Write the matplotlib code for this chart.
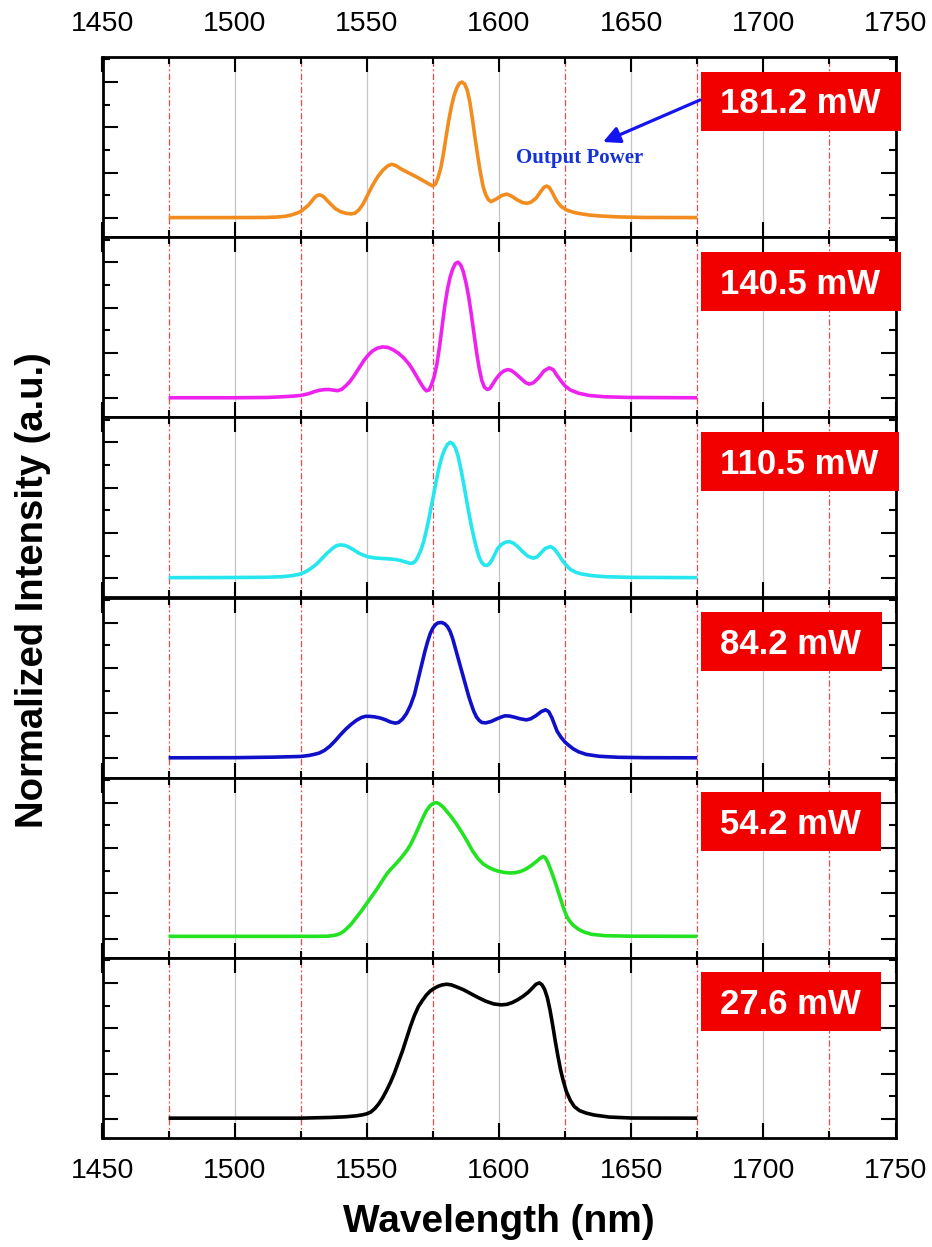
import matplotlib
matplotlib.use("Agg")
import matplotlib.pyplot as plt
from matplotlib.ticker import MultipleLocator
from matplotlib.transforms import blended_transform_factory, IdentityTransform
from matplotlib.patches import Rectangle

# ---------------- data ----------------
powers = ["181.2 mW", "140.5 mW", "110.5 mW", "84.2 mW", "54.2 mW", "27.6 mW"]
colors = ["#F28C1E", "#EE22EE", "#26E6EE", "#1010C8", "#22E222", "#000000"]

wl_181 = [1475, 1500, 1512, 1516, 1519, 1521, 1523, 1525, 1527, 1528, 1529, 1530, 1531, 1532, 1533,
          1534, 1536, 1538, 1540, 1542, 1544, 1545.5, 1547, 1548.5, 1550, 1552, 1554, 1556, 1558,
          1559.5, 1561, 1563, 1566, 1569, 1572, 1574, 1575, 1576, 1577, 1578, 1579, 1580, 1581, 1582,
          1583, 1584, 1585, 1586, 1587, 1588, 1589, 1590, 1591, 1592, 1593, 1594, 1595, 1596, 1597,
          1599, 1601, 1603, 1605, 1607, 1609, 1610.5, 1612, 1614, 1616, 1617, 1618, 1619, 1620, 1621,
          1622, 1623.5, 1625.5, 1628, 1630, 1634, 1638, 1645, 1655, 1675]
in_181 = [0.003, 0.003, 0.004, 0.007, 0.012, 0.02, 0.032, 0.047, 0.08, 0.096, 0.12, 0.145, 0.163, 0.17, 0.165,
          0.15, 0.108, 0.07, 0.047, 0.035, 0.03, 0.035, 0.06, 0.1, 0.157, 0.235, 0.30, 0.35, 0.385,
          0.395, 0.385, 0.36, 0.33, 0.30, 0.267, 0.245, 0.235, 0.25, 0.30, 0.37, 0.475, 0.60, 0.72, 0.82,
          0.90, 0.955, 0.99, 1.0, 0.985, 0.94, 0.85, 0.72, 0.58, 0.45, 0.33, 0.23, 0.17, 0.135, 0.12,
          0.14, 0.165, 0.176, 0.158, 0.132, 0.113, 0.108, 0.115, 0.145, 0.20, 0.225, 0.235, 0.225, 0.194, 0.155,
          0.12, 0.085, 0.059, 0.043, 0.034, 0.022, 0.015, 0.008, 0.004, 0.003]

wl_140 = [1475, 1500, 1512, 1518, 1522, 1525, 1528, 1530, 1532, 1534, 1535.5, 1537, 1539, 1540.5, 1542,
          1543.5, 1545, 1547, 1549, 1550.5, 1552, 1554, 1556, 1558, 1560, 1562, 1564, 1566, 1567.5,
          1569, 1570.5, 1571.5, 1572.5, 1573.5, 1574.5, 1575.5, 1576.5, 1577.5, 1578.5, 1579.5, 1580.5,
          1581.5, 1582.5, 1583.5, 1584.5, 1585.5, 1586.5, 1587.5, 1588.5, 1589.5, 1590.5, 1591.5, 1592.5,
          1593.5, 1594.5, 1595.6, 1596.5, 1597.5, 1599, 1600.5, 1602, 1603.3, 1604.5, 1606, 1608, 1610,
          1611.4, 1613, 1615, 1617, 1619, 1620.5, 1622, 1623.5, 1625, 1627, 1630, 1634, 1640, 1650, 1675]
in_140 = [0.003, 0.003, 0.005, 0.01, 0.015, 0.02, 0.033, 0.047, 0.058, 0.063, 0.064, 0.06, 0.055, 0.065, 0.09,
          0.12, 0.16, 0.22, 0.28, 0.316, 0.345, 0.368, 0.377, 0.373, 0.355, 0.33, 0.295, 0.25, 0.205,
          0.155, 0.105, 0.075, 0.054, 0.06, 0.10, 0.16, 0.25, 0.38, 0.53, 0.68, 0.80,
          0.89, 0.95, 0.99, 1.0, 0.98, 0.93, 0.85, 0.75, 0.62, 0.48, 0.34, 0.22,
          0.13, 0.08, 0.064, 0.07, 0.10, 0.145, 0.18, 0.202, 0.21, 0.205, 0.185, 0.15, 0.115,
          0.103, 0.113, 0.15, 0.20, 0.223, 0.21, 0.165, 0.125, 0.09, 0.06, 0.037, 0.02, 0.01, 0.005, 0.003]

wl_110 = [1475, 1500, 1512, 1518, 1522, 1525, 1527, 1529, 1531, 1533, 1535, 1537, 1538.5, 1540, 1541.5,
          1543, 1545, 1547, 1549, 1550.5, 1553, 1556, 1559, 1561, 1563, 1565, 1566.5, 1567.5, 1568.5,
          1569.5, 1570.5, 1571.5, 1572.5, 1573.5, 1574.5, 1575.5, 1576.5, 1577.5, 1578.5, 1579.5, 1580.5,
          1581.5, 1582.5, 1583.5, 1584.5, 1585.5, 1586.5, 1587.5, 1588.5, 1589.5, 1590.5, 1591.5, 1592.5,
          1593.5, 1594.5, 1595.5, 1596.5, 1597.5, 1598.5, 1599.5, 1601, 1602.5, 1604, 1605.5, 1607, 1609,
          1611, 1613, 1614.5, 1616, 1617.5, 1619.5, 1621, 1622.5, 1624, 1625.5, 1627, 1629, 1631, 1635,
          1640, 1650, 1675]
in_110 = [0.005, 0.006, 0.008, 0.012, 0.02, 0.033, 0.05, 0.075, 0.105, 0.145, 0.185, 0.22, 0.24, 0.246, 0.243,
          0.232, 0.21, 0.185, 0.168, 0.158, 0.15, 0.146, 0.142, 0.138, 0.13, 0.118, 0.11, 0.113, 0.13,
          0.165, 0.21, 0.27, 0.35, 0.44, 0.54, 0.64, 0.74, 0.83, 0.90, 0.95, 0.985,
          1.0, 0.99, 0.96, 0.90, 0.81, 0.71, 0.60, 0.49, 0.39, 0.30, 0.22, 0.155,
          0.115, 0.097, 0.095, 0.11, 0.14, 0.18, 0.22, 0.25, 0.266, 0.27, 0.258, 0.235, 0.195,
          0.162, 0.148, 0.158, 0.19, 0.22, 0.234, 0.215, 0.175, 0.13, 0.095, 0.065, 0.045, 0.033, 0.02,
          0.012, 0.007, 0.005]

wl_84 = [1475, 1500, 1515, 1525, 1528, 1530, 1532, 1534, 1536, 1538, 1540, 1542, 1544, 1546, 1548,
         1549.5, 1551, 1553, 1555, 1557, 1559, 1560.8, 1562, 1563.5, 1565, 1566.5, 1568, 1569, 1570,
         1571, 1572, 1573, 1574, 1575, 1576, 1577, 1578.4, 1579.5, 1580.5, 1581.5, 1582.5, 1583.5,
         1584.5, 1585.5, 1586.5, 1587.5, 1588.5, 1589.5, 1590.5, 1591.5, 1592.5, 1593.5, 1595, 1597,
         1599, 1601, 1602.3, 1604, 1606, 1608, 1610.4, 1612, 1614, 1616, 1617.6, 1618.8, 1620, 1621,
         1622, 1623.5, 1625, 1626.5, 1628, 1630, 1633, 1638, 1645, 1655, 1675]
in_84 = [0.005, 0.006, 0.01, 0.015, 0.022, 0.03, 0.04, 0.06, 0.09, 0.13, 0.174, 0.215, 0.25, 0.28, 0.302,
         0.31, 0.31, 0.306, 0.298, 0.285, 0.268, 0.26, 0.265, 0.29, 0.33, 0.39, 0.47, 0.55, 0.63,
         0.71, 0.79, 0.86, 0.92, 0.96, 0.985, 0.998, 1.0, 0.99, 0.97, 0.935, 0.88, 0.81,
         0.74, 0.67, 0.60, 0.53, 0.46, 0.40, 0.345, 0.305, 0.28, 0.265, 0.262, 0.272,
         0.29, 0.306, 0.314, 0.312, 0.303, 0.292, 0.284, 0.292, 0.315, 0.345, 0.358, 0.345, 0.30, 0.25,
         0.20, 0.155, 0.12, 0.095, 0.072, 0.05, 0.03, 0.016, 0.009, 0.006, 0.005]

wl_54 = [1475, 1500, 1520, 1530, 1535, 1537, 1539, 1541, 1542.6, 1544, 1546, 1548, 1550, 1552, 1554,
         1556, 1557.7, 1559.5, 1561, 1563, 1565, 1566.5, 1568, 1569.5, 1571, 1572.5, 1574, 1575.5,
         1576.5, 1577.5, 1579, 1580.5, 1582, 1584, 1586, 1588, 1590, 1592, 1594, 1596, 1598, 1600,
         1602, 1604, 1606, 1608, 1610, 1612, 1614, 1615.5, 1616.7, 1617.5, 1618.5, 1619.5, 1620.5,
         1621.5, 1622.5, 1623.5, 1624.5, 1625.5, 1626.5, 1628, 1630, 1632, 1635, 1640, 1650, 1675]
in_54 = [0.017, 0.017, 0.017, 0.017, 0.018, 0.022, 0.03, 0.05, 0.078, 0.105, 0.155, 0.205, 0.26, 0.315, 0.37,
         0.43, 0.48, 0.52, 0.55, 0.595, 0.645, 0.69, 0.75, 0.815, 0.88, 0.94, 0.98, 0.998,
         1.0, 0.99, 0.965, 0.93, 0.895, 0.84, 0.78, 0.715, 0.645, 0.59, 0.55, 0.525, 0.507, 0.495,
         0.487, 0.483, 0.485, 0.493, 0.51, 0.535, 0.565, 0.59, 0.605, 0.595, 0.56, 0.51, 0.458,
         0.40, 0.34, 0.28, 0.22, 0.17, 0.135, 0.10, 0.07, 0.05, 0.032, 0.022, 0.018, 0.017]

wl_27 = [1475, 1500, 1525, 1536, 1542, 1546, 1548.5, 1550, 1551.5, 1553, 1554.5, 1556, 1557.5, 1559,
         1560.5, 1562, 1563.5, 1565, 1566.5, 1568, 1569.5, 1571, 1572.5, 1574, 1575.5, 1577, 1578.5,
         1580.2, 1582, 1584, 1586.5, 1589, 1592, 1595, 1598, 1600.9, 1603, 1605, 1607, 1609, 1611,
         1612.8, 1614, 1615.3, 1616.3, 1617.3, 1618.3, 1619.3, 1620.3, 1621.3, 1622.3, 1623.3, 1624.3,
         1625.5, 1627, 1628.5, 1630.5, 1633, 1636, 1641.7, 1650, 1675]
in_27 = [0.005, 0.005, 0.005, 0.01, 0.015, 0.022, 0.03, 0.037, 0.05, 0.075, 0.11, 0.155, 0.21, 0.27,
         0.34, 0.42, 0.50, 0.59, 0.68, 0.76, 0.825, 0.87, 0.91, 0.94, 0.96, 0.975, 0.985,
         0.99, 0.985, 0.97, 0.95, 0.924, 0.893, 0.865, 0.845, 0.838, 0.842, 0.855, 0.875, 0.90, 0.93,
         0.965, 0.99, 1.0, 0.985, 0.95, 0.89, 0.80, 0.69, 0.57, 0.46, 0.36, 0.28,
         0.20, 0.135, 0.09, 0.06, 0.042, 0.028, 0.013, 0.006, 0.005]

series = [(wl_181, in_181), (wl_140, in_140), (wl_110, in_110),
          (wl_84, in_84), (wl_54, in_54), (wl_27, in_27)]

# ---------------- figure ----------------
plt.rcParams["font.family"] = ["Liberation Sans", "DejaVu Sans"]

W, H = 932, 1247
fig = plt.figure(figsize=(W / 100, H / 100), dpi=100)
left, right = 102.5 / W, 895.5 / W
top_px, bot_px = 57.0, 1138.0
n = len(series)
ph = (bot_px - top_px) / n

axes = []
for i, ((wl, it), col) in enumerate(zip(series, colors)):
    y_top = top_px + i * ph
    ax = fig.add_axes([left, 1 - (y_top + ph) / H, right - left, ph / H])
    axes.append(ax)
    ax.set_xlim(1450, 1750)
    ax.set_ylim(-0.141, 1.184)
    ax.xaxis.set_major_locator(MultipleLocator(50))
    ax.xaxis.set_minor_locator(MultipleLocator(25))
    ax.yaxis.set_major_locator(MultipleLocator(1 / 3))
    ax.yaxis.set_minor_locator(MultipleLocator(1 / 6))
    ax.xaxis.grid(True, which="major", color="#c4c4c4", lw=0.9)
    ax.xaxis.grid(True, which="minor", color="#f04848", lw=0.9,
                  linestyle=(0, (5, 2, 1.5, 2)))
    ax.set_axisbelow(True)
    ax.plot(wl, it, color=col, lw=2.6, solid_joinstyle="round", solid_capstyle="butt", zorder=3)
    ax.tick_params(which="both", direction="in", top=True, bottom=True, left=True, right=True,
                   labelleft=False, labelright=False, labelbottom=(i == n - 1), labeltop=(i == 0))
    ax.tick_params(axis="x", which="major", labelsize=20.5, pad=14.5)
    ax.tick_params(which="major", length=10.5, width=1.5)
    ax.tick_params(which="minor", length=5, width=1.5)
    for sp in ax.spines.values():
        sp.set_linewidth(2.0)
        sp.set_zorder(4)

    # power label text (baseline placed so caps centre in the box)
    btrans = blended_transform_factory(ax.transData, ax.transAxes)
    box_cy_px = y_top + 44.0
    cap = 0.716 * 25 * 100 / 72
    base_y_frac = 1 - (box_cy_px + cap / 2 - y_top) / ph
    t = ax.text(1683.5, base_y_frac, powers[i], transform=btrans, ha="left", va="baseline",
                fontsize=25, fontweight="bold", color="white", zorder=11, clip_on=False)
    t._box_cy = box_cy_px

fig.canvas.draw()
renderer = fig.canvas.get_renderer()
for ax in axes:
    for t in ax.texts:
        ext = t.get_window_extent(renderer)
        cy = H - t._box_cy
        rect = Rectangle((ext.x0 - 19, cy - 29.5), ext.width + 40, 59,
                         transform=IdentityTransform(), facecolor="#F20000",
                         edgecolor="none", zorder=10, clip_on=False)
        ax.add_artist(rect)

# annotation in the top panel
ax0 = axes[0]
ax0.annotate("", xy=(603, H - 142), xytext=(700, H - 100),
             xycoords="figure pixels", textcoords="figure pixels",
             arrowprops=dict(arrowstyle="-|>,head_length=1.0,head_width=0.5",
                             color="#1414F0", lw=2.3, shrinkA=0, shrinkB=0),
             zorder=12)
fig.text(579.5 / W, 1 - 158 / H, "Output Power", ha="center", va="center",
         fontsize=15, fontweight="bold", color="#1432D6",
         family=["Liberation Serif", "DejaVu Serif"])

# axis titles
fig.text(499 / W, 1 - 1222 / H, "Wavelength (nm)", ha="center", va="center",
         fontsize=28, fontweight="bold")
fig.text(33 / W, 1 - 590 / H, "Normalized Intensity (a.u.)", ha="center", va="center",
         rotation=90, fontsize=27.5, fontweight="bold")

fig.savefig("out.png", dpi=100)
